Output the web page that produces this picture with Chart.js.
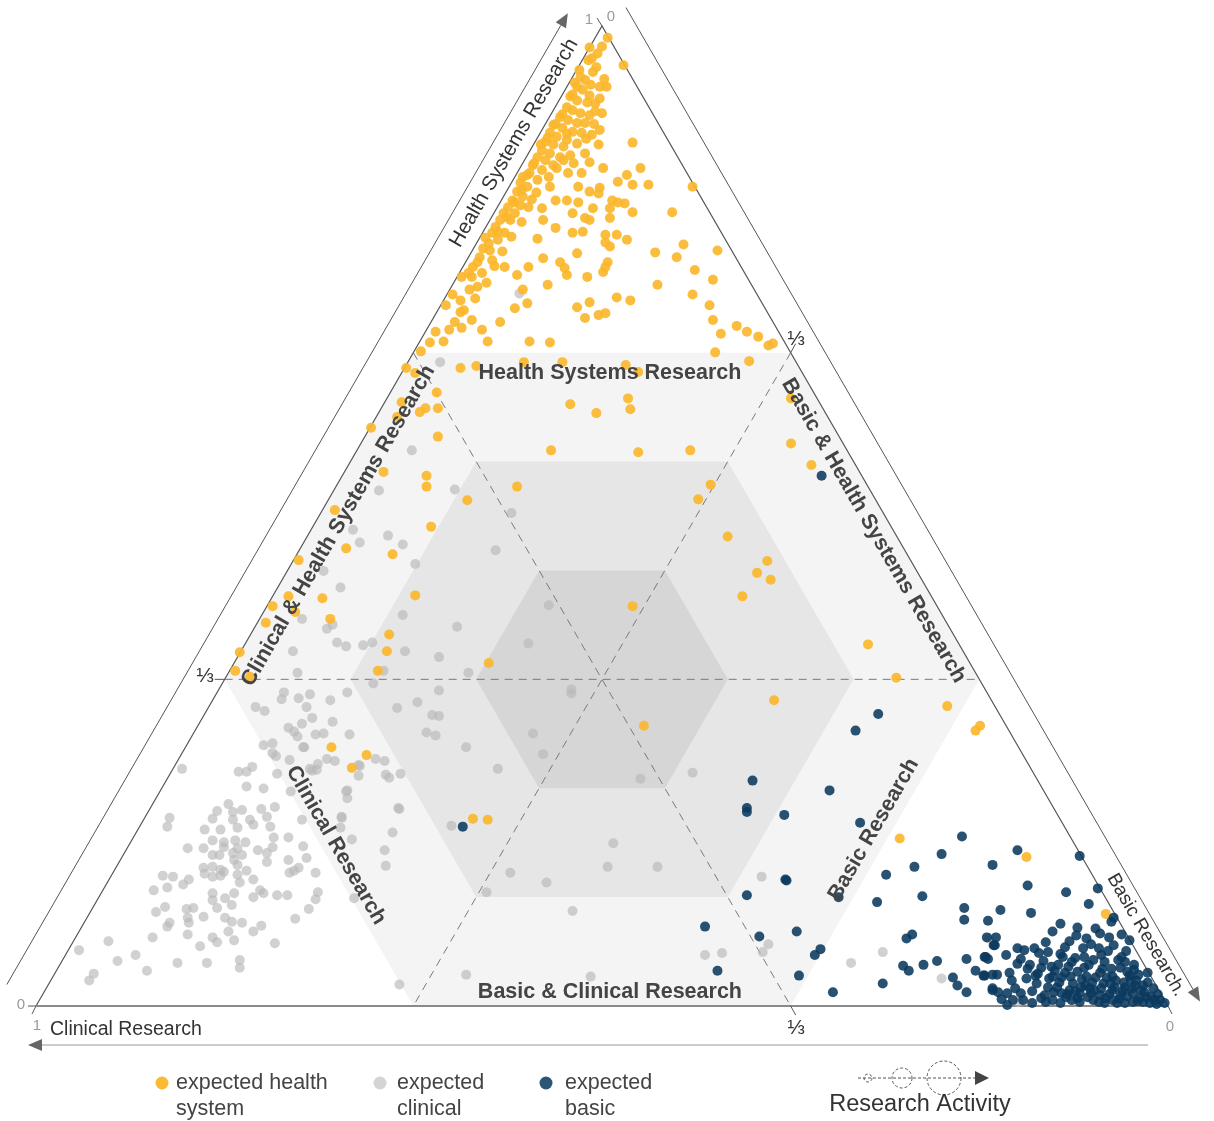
<!DOCTYPE html>
<html>
<head>
<meta charset="utf-8">
<script src="https://cdn.jsdelivr.net/npm/chart.js@4.4.0/dist/chart.umd.min.js"></script>
<style>
  html, body { margin: 0; padding: 0; background: #fff; }
  #wrap { width: 1214px; height: 1121px; }
</style>
</head>
<body>
<div id="wrap"><canvas id="tern" width="1214" height="1121"></canvas></div>
<script>
// each point: [position along the clinical -> basic base (%), health systems share (%)]
// (position = basic share + health share / 2, so the apex is at [50, 100])
var healthPts = [
  [48.9,97.8],[50.0,97.9],[50.5,98.8],[49.6,97.2],[48.8,96.5],[49.1,96.7],[49.2,95.3],[49.8,93.8],[50.4,93.8],[51.9,96.0],
  [48.1,94.8],[48.5,94.5],[47.8,93.8],[48.3,93.5],[47.4,93.0],[47.8,92.4],[48.7,92.2],[49.4,92.1],[46.9,91.7],[47.4,91.4],
  [48.1,91.1],[48.9,90.9],[50.0,91.1],[46.3,90.7],[47.0,90.4],[47.8,90.1],[48.5,90.1],[45.7,89.9],[46.5,89.6],[47.4,89.2],
  [48.2,89.1],[49.1,88.9],[49.8,89.4],[45.4,89.1],[46.0,88.7],[46.9,88.4],[45.0,88.2],[45.7,87.9],[46.6,87.7],[49.7,87.9],
  [44.7,87.3],[45.4,87.0],[46.3,86.6],[48.5,87.0],[44.3,86.6],[45.0,86.3],[45.7,85.8],[46.6,86.3],[48.9,86.1],[43.9,85.8],
  [44.7,85.3],[43.6,85.0],[44.3,84.3],[43.0,84.6],[42.8,84.0],[43.4,83.6],[42.5,83.1],[43.0,82.6],[42.1,82.2],[42.8,81.7],
  [41.7,81.5],[42.3,80.9],[41.3,80.9],[41.9,80.2],[41.0,80.2],[40.6,79.5],[41.4,78.9],[40.3,78.9],[40.8,78.2],[39.7,78.4],
  [39.5,77.3],[40.1,77.1],[39.2,76.4],[40.3,76.1],[38.6,75.4],[39.4,74.8],[38.5,74.4],[39.0,73.4],[38.3,73.1],[37.6,74.4],
  [36.8,72.6],[37.5,70.8],[37.0,69.8],[37.6,69.2],[36.0,67.8],[34.8,67.7],
  [48.0,95.5],[49.5,95.8],[47.6,94.2],[49.0,94.0],[50.2,94.6],[47.2,92.8],[48.9,92.9],[49.8,92.6],[46.5,91.0],[49.4,91.3],
  [45.9,90.0],[49.3,90.0],[46.9,89.0],[48.6,88.5],[45.2,88.6],[47.8,88.0],[44.6,87.9],[47.2,86.8],[44.0,86.0],[46.0,85.5],
  [47.5,86.0],[43.4,84.8],[45.3,84.6],[42.9,83.3],[44.2,83.0],[42.3,82.0],[43.8,82.3],[41.6,80.5],[42.9,80.0],[40.8,79.0],
  [42.0,78.5],[40.0,77.8],[41.2,77.0],[39.0,75.9],[40.5,75.5],[38.2,74.8],[39.8,73.8],[37.5,72.0],[38.8,72.2],[37.8,71.0],
  [36.2,71.5],[36.5,69.0],[35.3,68.8],[38.5,70.0],
  [52.7,88.1],[50.1,85.5],[52.2,84.8],[53.4,85.5],[51.4,84.1],[52.7,83.8],[54.1,83.8],[47.0,85.0],[48.2,85.0],[47.9,83.6],
  [45.4,83.6],[48.9,83.1],[49.8,83.5],[49.7,82.9],[50.9,82.2],[51.4,82.0],[52.0,81.9],[45.9,82.2],[46.9,82.2],[47.9,82.0],
  [49.2,81.4],[50.7,81.4],[52.7,81.0],[47.4,80.9],[48.5,80.4],[48.9,80.2],[50.7,80.4],[44.7,81.4],[43.5,81.5],[44.8,80.2],
  [45.9,79.4],[47.4,78.9],[48.3,79.0],[50.3,78.7],[51.3,78.7],[52.2,78.2],[44.3,78.3],[50.3,77.9],[50.7,77.5],[47.8,76.8],
  [44.8,76.3],[46.3,75.9],[46.7,75.3],[46.9,74.6],[50.3,75.4],[50.5,75.9],[50.1,74.9],[42.5,74.6],[41.4,75.4],[43.5,75.4],
  [48.7,74.4],[45.2,73.6],[43.0,73.1],[43.4,71.7],[42.3,71.2],[51.3,72.3],[52.5,72.0],[48.9,71.8],[47.8,71.3],[49.7,70.5],
  [50.3,70.7],[48.5,70.2],[41.0,69.8],[39.4,69.0],[43.6,67.8],[45.4,67.7],[54.7,76.9],[56.6,76.4],[57.2,77.7],[56.2,81.0],
  [54.9,73.6],[58.0,72.6],[58.2,75.1],[59.8,74.1],[59.5,71.5],[59.8,70.0],[58.0,83.6],[60.2,77.1],[39.9,67.8],[60.5,68.6],
  [61.9,69.4],[62.8,68.8],[63.8,68.3],[64.7,67.4],[60.0,66.7],[63.0,65.8],[65.1,67.6],
  [34.0,66.8],[33.5,64.6],[32.7,65.1],[37.5,65.1],[38.9,65.3],[43.1,65.7],[46.5,65.7],[52.1,65.4],[53.2,64.7],[47.2,61.4],
  [49.5,60.5],[52.3,62.0],[52.5,60.9],[66.7,62.0],[66.7,57.4],[35.5,58.1],[35.4,62.6],[35.5,61.0],[33.9,60.6],[34.4,61.0],
  [32.3,61.6],[31.9,60.1],[29.6,59.0],[45.5,56.7],[53.2,56.5],[57.8,56.7],[68.5,55.2],[34.5,54.1],[34.5,53.0],[38.1,51.6],
  [30.7,54.5],[26.4,50.6],[34.9,48.9],[27.4,46.7],[31.5,46.1],[23.2,45.5],[22.3,41.8],[25.3,41.6],[20.9,40.8],[26.0,39.5],
  [20.3,39.1],[22.9,40.2],[33.5,41.9],[31.2,37.9],[31.0,36.2],[30.2,34.2],[18.0,36.1],[17.6,34.2],[18.9,33.6],[42.5,53.0],
  [59.6,53.2],[58.5,51.7],[61.1,47.9],[64.6,45.4],[63.7,44.2],[64.9,43.5],[62.4,41.8],[52.7,40.8],[40.0,35.0],[73.5,36.9],
  [76.0,33.5],[65.2,31.2],[80.5,30.6],[83.4,28.6],[83.0,28.1],[53.7,28.6],[29.2,25.6],[27.9,24.3],[26.1,26.4],[38.6,19.1],
  [39.9,19.0],[76.3,17.1],[87.5,15.2],[94.5,9.4]
];

var clinicalPts = [
  [42.7,72.7],[35.7,65.7],[33.2,56.7],[30.3,52.6],[37.0,52.7],[42.0,50.3],[40.6,46.5],[28.0,48.6],[28.6,47.3],[31.1,48.0],
  [32.4,47.1],[33.5,45.1],[26.9,42.7],[25.4,44.4],[23.5,39.5],[25.7,38.5],[26.2,38.9],[26.6,37.1],[27.4,36.7],[28.9,36.8],
  [29.7,37.1],[22.7,36.2],[23.1,34.0],[32.4,39.9],[32.6,36.2],[35.6,35.6],[37.2,38.7],[38.2,34.0],[30.7,34.2],[45.3,40.9],
  [43.5,37.0],[47.3,32.3],[47.3,31.9],[21.9,32.0],[21.7,31.3],[23.2,31.4],[24.2,31.8],[26.0,31.2],[27.5,32.0],[29.8,32.9],
  [33.7,31.0],[31.9,30.4],[35.0,29.7],[35.6,29.6],[35.6,32.2],[23.9,30.5],[19.4,30.5],[20.2,30.1],[24.4,29.4],[23.5,28.8],
  [26.2,29.0],[22.3,28.4],[22.8,28.0],[23.1,27.5],[24.7,27.7],[25.4,27.8],[27.7,27.7],[34.5,27.9],[35.3,27.6],[23.7,26.4],
  [20.1,26.6],[20.9,26.8],[20.9,25.8],[21.2,25.5],[22.4,25.1],[24.9,24.7],[25.7,25.2],[26.4,25.0],[24.4,24.0],[24.8,24.1],
  [28.6,24.5],[30.0,25.2],[30.8,25.0],[28.5,23.5],[30.9,23.6],[31.2,23.3],[32.2,23.7],[21.3,23.7],[17.9,23.9],[18.6,23.9],
  [19.1,24.4],[18.6,22.4],[20.1,22.2],[22.5,21.9],[27.4,21.9],[27.5,21.2],[17.0,20.6],[18.2,20.0],[19.9,20.1],[21.1,20.3],
  [32.1,20.1],[23.5,19.0],[27.0,19.3],[31.5,17.7],[26.9,18.2],[27.9,17.0],[30.8,15.9],[30.9,14.3],[28.1,11.0],[32.0,20.2],
  [38.0,26.4],[43.9,27.8],[44.8,25.7],[40.8,24.2],[53.4,23.2],[58.0,23.8],[28.5,24.6],[36.7,18.4],[41.9,13.6],[45.1,12.6],
  [39.8,11.6],[47.4,9.7],[38.0,3.2],[49.0,3.0],[32.1,2.2],[51.0,16.6],[50.5,14.2],[54.9,14.2],[64.1,13.2],[59.1,5.2],
  [60.6,5.4],[64.2,5.5],[64.7,6.3],[74.8,5.5],[72.0,4.4],[80.0,2.8],[84.2,6.9],[86.8,0.4],
  [12.9,24.2],[16.0,19.9],[15.6,19.1],[17.4,19.8],[11.8,19.2],[11.6,18.3],[14.9,18.0],[16.3,18.0],[17.4,19.0],[17.8,18.2],
  [18.9,19.0],[19.2,18.5],[20.4,19.3],[20.7,18.3],[22.3,17.2],[21.0,17.2],[15.6,16.9],[16.6,16.7],[17.6,16.9],[18.5,16.7],
  [13.4,16.1],[14.8,16.1],[16.6,16.2],[17.8,16.1],[19.6,15.9],[20.9,16.2],[23.6,16.3],[15.6,15.4],[16.2,15.4],[17.4,15.6],
  [18.2,15.4],[20.4,15.6],[23.9,15.1],[17.5,14.9],[20.4,14.7],[22.3,14.9],[14.8,14.1],[15.6,14.2],[16.3,13.9],[14.9,13.5],
  [16.6,13.7],[17.8,14.4],[18.6,13.8],[23.2,14.1],[22.8,13.8],[22.4,13.6],[24.7,13.6],[11.2,13.3],[12.1,13.2],[10.4,11.8],
  [11.6,12.1],[13.0,12.4],[13.5,12.9],[15.6,13.2],[16.3,13.3],[17.8,13.4],[18.0,12.6],[19.2,12.9],[15.6,11.5],[17.5,11.5],
  [15.6,10.8],[16.7,11.0],[19.2,11.1],[19.8,11.8],[20.1,11.5],[21.3,11.3],[22.2,11.3],[24.7,10.9],[24.9,11.6],[11.4,10.1],
  [10.6,9.6],[13.3,9.9],[13.9,10.0],[14.8,9.1],[16.0,10.0],[17.3,10.3],[16.7,9.0],[13.4,9.0],[17.3,8.6],[18.2,8.5],
  [19.9,8.2],[24.1,9.9],[22.9,8.9],[11.6,8.1],[11.8,8.5],[13.5,8.5],[19.2,7.6],[17.0,7.6],[15.6,7.0],[16.0,6.5],
  [17.5,6.7],[13.4,7.3],[14.5,6.1],[21.1,6.4],[10.3,7.0],[6.4,6.6],[3.8,5.7],[8.8,5.2],[7.2,4.6],[12.5,4.4],
  [15.1,4.4],[18.0,4.7],[18.0,3.9],[9.8,3.6],[5.1,3.3],[4.7,2.6],
  [23.6,26.4],[24.2,24.2],[27.5,22.0],[27.0,19.2]
];

var basicPts = [
  [69.4,54.1],[74.4,29.8],[72.4,28.1],[70.1,22.0],[63.3,23.0],[62.8,20.2],[62.8,19.8],[66.1,19.5],[72.8,18.7],[81.8,17.3],
  [80.0,15.5],[84.5,14.4],[77.6,14.2],[75.1,13.4],[66.2,12.9],[62.8,11.3],[78.3,11.2],[74.3,10.6],[70.9,11.1],[82.0,10.0],
  [82.0,8.8],[84.1,8.7],[59.1,8.1],[63.9,7.1],[67.2,7.6],[69.3,5.8],[68.8,5.2],[77.4,7.3],[76.9,6.9],[84.0,7.0],
  [84.8,7.0],[84.6,6.2],[60.2,3.6],[67.4,3.1],[70.4,1.4],[74.8,2.3],[76.6,4.1],[77.1,3.6],[78.4,4.2],[79.6,4.6],
  [82.2,4.8],[81.0,2.9],[81.4,2.1],[82.2,1.4],[83.0,3.6],[83.8,5.0],[84.1,4.8],[83.7,3.1],[84.5,3.2],[84.5,1.6],
  [85.0,1.4],[37.7,18.3],[66.3,12.8],[86.7,15.9],[92.2,15.3],[93.8,12.0],[89.8,7.6],[94.0,7.4],[95.9,7.3],[91.3,6.6],
  [96.6,6.7],[92.8,6.9],[84.7,6.2],[86.7,5.9],[87.3,5.7],[88.6,5.4],[89.4,5.5],[90.5,5.3],[92.5,5.9],[93.9,5.9],
  [90.7,5.0],[92.6,5.0],[93.4,4.7],[95.9,5.0],[85.7,5.2],[83.9,5.0],[86.7,4.3],[87.6,3.8],[88.8,3.9],
  [89.7,4.0],[90.3,4.2],[91.2,4.0],[92.0,3.5],[83.8,3.1],[84.9,3.2],[86.0,3.4],[88.3,3.1],[89.8,3.0],[90.6,2.9],
  [91.6,2.3],[92.8,3.0],[94.0,3.4],[95.1,3.0],[96.4,3.5],[97.4,3.2],[98.2,3.4],[84.5,1.8],[85.8,1.3],[87.2,0.6],
  [88.0,0.3],[85.8,0.1],[88.4,2.3],[89.4,1.9],[89.8,0.6],[90.6,1.3],[91.5,0.6],[92.2,1.3],[93.1,1.8],[93.4,0.6],
  [94.3,2.3],[95.1,1.6],[96.2,1.9],[96.9,1.3],[97.8,2.1],[98.7,1.8],[98.1,0.9],[99.3,0.6],[95.1,0.6],[96.9,0.4],
  [92.2,0.4],[95.8,1.1],[97.5,0.8],[98.4,0.3],[94.4,0.3],[96.2,0.3],[99.7,0.3],[94.0,1.1],[90.5,0.3],[89.1,1.1],
  [91.3,1.6],[92.7,2.1],[94.9,2.3],[96.7,2.7],[95.8,3.9],[94.4,4.5],[91.8,4.9],
  [88.0,1.5],[88.8,0.8],[89.5,2.8],[90.2,1.9],[90.9,3.4],[91.0,0.9],[91.8,1.5],[92.4,2.7],[92.9,0.9],[93.5,1.6],
  [93.6,2.9],[94.2,3.8],[94.8,1.2],[95.4,2.6],[95.5,0.3],[96.0,1.5],[96.6,3.1],[97.1,2.1],[97.3,0.5],[97.9,1.4],
  [98.5,1.0],[99.0,0.2],[93.0,4.2],[91.5,4.5],[90.0,3.6],[89.0,4.6],[87.5,2.8],[86.5,1.8],[86.3,0.6],[87.0,4.8],
  [88.2,5.9],[90.9,6.0],[94.7,5.6],[93.2,6.3],[96.2,4.5],[97.0,4.2],[92.0,8.0],[95.0,8.6],[90.5,8.4],[87.9,9.5],
  [95.2,9.0],[93.0,10.4],[85.2,9.8],[87.6,12.3],[91.0,11.6],
  [88.5,3.3],[89.2,0.4],[89.9,1.4],[90.4,2.4],[91.1,1.2],[91.4,3.0],[92.0,0.8],[92.3,1.9],[92.6,3.9],[93.2,1.3],
  [93.3,2.4],[93.9,0.4],[94.1,1.8],[94.6,2.9],[94.5,0.8],[95.0,3.8],[95.3,1.9],[95.7,0.7],[96.1,2.4],[96.4,1.0],
  [96.8,1.8],[97.0,3.7],[97.6,1.6],[97.8,0.4],[98.2,2.4],[98.8,0.6],[99.1,1.2],[97.2,2.6],[95.6,4.7],[94.1,5.2],
  [95.2,6.2],[96.3,5.6],[93.6,7.9],[94.8,7.0],[91.9,7.2],[89.2,6.5],[87.8,4.2],[86.2,2.6],[85.3,0.7],[87.0,1.3]
];

// shaded hexagons around the centroid, radius in % of the triangle side
var hexRadii = [100 / 3, 200 / 9, 100 / 9];
var hexFills = ["#f4f4f4", "#e6e6e6", "#d6d6d6"];

var FONT = "'Liberation Sans', Arial, Helvetica, sans-serif";

function poly(ctx, pts) {
  ctx.beginPath();
  ctx.moveTo(pts[0][0], pts[0][1]);
  for (var i = 1; i < pts.length; i++) ctx.lineTo(pts[i][0], pts[i][1]);
  ctx.closePath();
}

function arrowLine(ctx, a, b, color, head) {
  var dx = b[0] - a[0], dy = b[1] - a[1];
  var len = Math.sqrt(dx * dx + dy * dy);
  var ux = dx / len, uy = dy / len;
  ctx.strokeStyle = color;
  ctx.lineWidth = 1;
  ctx.beginPath();
  ctx.moveTo(a[0], a[1]);
  ctx.lineTo(b[0] - ux * head, b[1] - uy * head);
  ctx.stroke();
  ctx.fillStyle = "#666";
  ctx.beginPath();
  ctx.moveTo(b[0], b[1]);
  ctx.lineTo(b[0] - ux * head - uy * 6, b[1] - uy * head + ux * 6);
  ctx.lineTo(b[0] - ux * head + uy * 6, b[1] - uy * head - ux * 6);
  ctx.closePath();
  ctx.fill();
}

function txt(ctx, s, x, y, deg, font, color, align) {
  ctx.save();
  ctx.translate(x, y);
  ctx.rotate(deg * Math.PI / 180);
  ctx.font = font;
  ctx.fillStyle = color;
  ctx.textAlign = align || "center";
  ctx.textBaseline = "middle";
  ctx.fillText(s, 0, 0);
  ctx.restore();
}

var ternaryFrame = {
  id: "ternaryFrame",
  beforeDatasetsDraw: function (chart) {
    var ctx = chart.ctx, xs = chart.scales.x, ys = chart.scales.y;
    var P = function (a, b) { return [xs.getPixelForValue(a), ys.getPixelForValue(b)]; };
    var cx = 50, cy = 100 / 3;
    ctx.save();

    // hexagons
    hexRadii.forEach(function (r, i) {
      poly(ctx, [P(cx - r, cy), P(cx - r / 2, cy + r), P(cx + r / 2, cy + r),
                 P(cx + r, cy), P(cx + r / 2, cy - r), P(cx - r / 2, cy - r)]);
      ctx.fillStyle = hexFills[i];
      ctx.fill();
    });

    // dashed thirds lines
    ctx.setLineDash([8, 6]);
    ctx.strokeStyle = "#7a7a7a";
    ctx.lineWidth = 1;
    [[P(100 / 6, cy), P(500 / 6, cy)],
     [P(100 / 3, 200 / 3), P(200 / 3, 0)],
     [P(200 / 3, 200 / 3), P(100 / 3, 0)]].forEach(function (l) {
      ctx.beginPath();
      ctx.moveTo(l[0][0], l[0][1]);
      ctx.lineTo(l[1][0], l[1][1]);
      ctx.stroke();
    });
    ctx.setLineDash([]);

    // triangle outline
    var A = P(0, 0), B = P(100, 0), C = P(50, 100);
    ctx.strokeStyle = "#555";
    ctx.lineWidth = 1.2;
    ctx.beginPath();
    ctx.moveTo(A[0], A[1]); ctx.lineTo(C[0], C[1]); ctx.lineTo(B[0], B[1]);
    ctx.stroke();
    ctx.strokeStyle = "#8a8a8a";
    ctx.lineWidth = 2;
    ctx.beginPath();
    ctx.moveTo(A[0], A[1]); ctx.lineTo(B[0], B[1]);
    ctx.stroke();

    // outer axes with arrows
    var s3 = Math.sqrt(3) / 2;
    var nl = [-s3, -0.5], dl = [0.5, -s3];
    var d = 36;
    arrowLine(ctx,
      [A[0] + nl[0] * d + dl[0] * 4, A[1] + nl[1] * d + dl[1] * 4],
      [C[0] + nl[0] * d - dl[0] * 6, C[1] + nl[1] * d - dl[1] * 6], "#555", 14);
    var nr = [s3, -0.5], dr = [0.5, s3];
    d = 30;
    arrowLine(ctx,
      [C[0] + nr[0] * d - dr[0] * 4, C[1] + nr[1] * d - dr[1] * 4],
      [B[0] + nr[0] * d + dr[0] * 12, B[1] + nr[1] * d + dr[1] * 12], "#555", 14);
    arrowLine(ctx, [B[0] - 20, A[1] + 39], [A[0] - 8, A[1] + 39], "#999", 14);

    // small ticks at corners and thirds
    ctx.strokeStyle = "#555";
    ctx.lineWidth = 1;
    var t1 = P(100 / 6, 100 / 3), t2 = P(200 / 3, 200 / 3), t3 = P(200 / 3, 0);
    ctx.beginPath();
    ctx.moveTo(C[0], C[1]); ctx.lineTo(C[0] - 5, C[1] - 8);
    ctx.moveTo(A[0], A[1]); ctx.lineTo(A[0] - 8, A[1]);
    ctx.moveTo(A[0], A[1]); ctx.lineTo(A[0] - 4, A[1] + 8);
    ctx.moveTo(B[0], B[1]); ctx.lineTo(B[0] + 4, B[1] + 8);
    ctx.moveTo(t1[0], t1[1]); ctx.lineTo(t1[0] - 10, t1[1]);
    ctx.moveTo(t2[0], t2[1]); ctx.lineTo(t2[0] + 5, t2[1] - 9);
    ctx.moveTo(t3[0], t3[1]); ctx.lineTo(t3[0] + 5, t3[1] + 9);
    ctx.stroke();
    ctx.restore();
  },
  afterDatasetsDraw: function (chart) {
    var ctx = chart.ctx, xs = chart.scales.x, ys = chart.scales.y;
    var P = function (a, b) { return [xs.getPixelForValue(a), ys.getPixelForValue(b)]; };
    var bold = "bold 21.5px " + FONT, dark = "#444";
    var p;

    // region labels
    p = P(50.7, 64.6); txt(ctx, "Health Systems Research", p[0], p[1], 0, bold, dark);
    p = P(26.7, 49.0); txt(ctx, "Clinical & Health Systems Research", p[0], p[1], -60, bold, dark);
    p = P(74.0, 48.5); txt(ctx, "Basic & Health Systems Research", p[0], p[1], 60, bold, dark);
    p = P(26.5, 16.4); txt(ctx, "Clinical Research", p[0], p[1], 60, bold, dark);
    p = P(74.0, 18.0); txt(ctx, "Basic Research", p[0], p[1], -60, bold, dark);
    p = P(50.7, 1.4); txt(ctx, "Basic & Clinical Research", p[0], p[1], 0, bold, dark);

    // axis titles
    txt(ctx, "Health Systems Research", 514, 143, -60, "20.5px " + FONT, "#333");
    txt(ctx, "Basic Research.", 1146, 935, 60, "19px " + FONT, "#333");
    txt(ctx, "Clinical Research", 50, 1030, 0, "19.5px " + FONT, "#333", "left");

    // tick values
    var grey = "#9a9a9a", f14 = "15px " + FONT;
    txt(ctx, "1", 589, 20, 0, f14, grey);
    txt(ctx, "0", 611, 17, 0, f14, grey);
    txt(ctx, "0", 21, 1005, 0, f14, grey);
    txt(ctx, "1", 37, 1026, 0, f14, grey);
    txt(ctx, "0", 1170, 1027, 0, f14, grey);
    txt(ctx, "\u2153", 205, 676, 0, "21px " + FONT, "#333");
    txt(ctx, "\u2153", 796, 339, 0, "21px " + FONT, "#333");
    txt(ctx, "\u2153", 796, 1028, 0, "21px " + FONT, "#333");

    // legend
    var items = [
      ["rgb(251,185,52)", 162, 176, "expected health", "system"],
      ["#d4d4d4", 380, 397, "expected", "clinical"],
      ["#2b5777", 546, 565, "expected", "basic"]
    ];
    items.forEach(function (it) {
      ctx.fillStyle = it[0];
      ctx.beginPath();
      ctx.arc(it[1], 1083, 6.5, 0, Math.PI * 2);
      ctx.fill();
      txt(ctx, it[3], it[2], 1083, 0, "21.5px " + FONT, "#444", "left");
      txt(ctx, it[4], it[2], 1109, 0, "21.5px " + FONT, "#444", "left");
    });

    // research activity key
    ctx.save();
    ctx.strokeStyle = "#555";
    ctx.lineWidth = 1;
    ctx.setLineDash([3, 2]);
    ctx.beginPath();
    ctx.moveTo(858, 1078); ctx.lineTo(976, 1078);
    ctx.stroke();
    ctx.beginPath(); ctx.arc(868, 1078, 4, 0, Math.PI * 2); ctx.stroke();
    ctx.beginPath(); ctx.arc(902, 1078, 10, 0, Math.PI * 2); ctx.stroke();
    ctx.beginPath(); ctx.arc(944, 1078, 17, 0, Math.PI * 2); ctx.stroke();
    ctx.setLineDash([]);
    ctx.fillStyle = "#444";
    ctx.beginPath();
    ctx.moveTo(989, 1078); ctx.lineTo(975, 1071); ctx.lineTo(975, 1085);
    ctx.closePath();
    ctx.fill();
    ctx.restore();
    txt(ctx, "Research Activity", 920, 1105, 0, "23.5px " + FONT, "#333");
  }
};

var ctx1 = document.getElementById("tern");

var chart1 = new Chart(ctx1, {
  type: "scatter",
  data: {
    datasets: [
      { label: "expected basic", data: basicPts, order: 0,
        backgroundColor: "rgba(11,58,94,0.88)", borderWidth: 0, pointRadius: 5, clip: false },
      { label: "expected health system", data: healthPts, order: 1,
        backgroundColor: "rgba(251,183,45,0.92)", borderWidth: 0, pointRadius: 5, clip: false },
      { label: "expected clinical", data: clinicalPts, order: 2,
        backgroundColor: "rgba(185,185,185,0.65)", borderWidth: 0, pointRadius: 5, clip: false }
    ]
  },
  options: {
    responsive: false,
    animation: false,
    layout: { padding: { left: 36, right: 46, top: 26, bottom: 115 } },
    scales: {
      x: { type: "linear", min: 0, max: 100, display: false },
      y: { type: "linear", min: 0, max: 100, display: false }
    },
    plugins: {
      legend: { display: false },
      tooltip: { enabled: false }
    }
  },
  plugins: [ternaryFrame]
});
</script>
</body>
</html>
